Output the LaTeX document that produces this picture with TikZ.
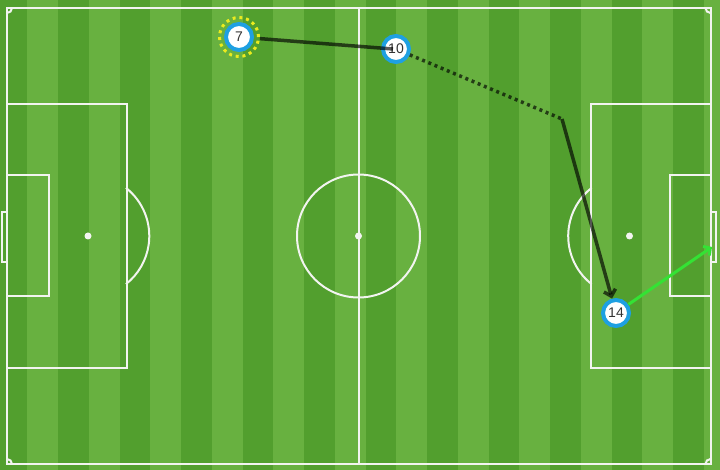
\documentclass[tikz,border=0pt]{standalone}
\usepackage{fontspec}
\setmainfont{Liberation Sans}
\usepackage{tikz}
\usetikzlibrary{positioning}
\usetikzlibrary{arrows.meta}
\tikzset{tips=proper}
\definecolor{turf}{RGB}{104,177,64}
\definecolor{turfdark}{RGB}{82,159,46}
\definecolor{ringblue}{RGB}{30,160,226}
\definecolor{shotgreen}{RGB}{52,226,52}
\definecolor{chalk}{RGB}{242,244,240}
\definecolor{spot}{RGB}{235,235,30}
\tikzset{%
    player/.style={circle, draw=ringblue, fill=white, line width=4pt, minimum size=26pt, inner sep=0pt, text=black!80, font=\fontsize{14}{14}\selectfont},
    scorer/.style={circle, draw=spot, dash pattern=on 3pt off 3.8pt, line width=3pt, minimum size=39pt, inner sep=0pt},
    chalkline/.style={draw=chalk, line width=2pt},
    pass/.style={draw=black, draw opacity=0.65, line width=3.5pt},
    carry/.style={pass, dash pattern=on 3pt off 3.7pt},
    shot/.style={draw=shotgreen, line width=3pt, {-Straight Barb[length=5pt,width=11pt]}}
}

\begin{document}
\begin{tikzpicture}[x=1pt, y=-1pt]
    \useasboundingbox (0,0) rectangle (720,470);
    % grass
    \fill[turf] (0,0) rectangle (720,470);
    \foreach \k in {0,...,11}
        \fill[turfdark] ({-3.5+61.5*\k},0) rectangle ++(30.75,470);
    % pitch markings
    \draw[chalkline] (7,8) rectangle (710.5,464);
    \draw[chalkline] (358.5,8) -- (358.5,464);
    \draw[chalkline] (358.5,236) circle[radius=61.5];
    \fill[chalk] (358.5,236) circle[radius=3.5];
    \draw[chalkline] (7,104) rectangle (126.5,367.5);
    \draw[chalkline] (7,175) rectangle (48.5,296);
    \draw[chalkline] (2,212) rectangle (7,262);
    \fill[chalk] (88,236) circle[radius=3.5];
    \draw[chalkline] (88,236) ++(-51.7:61.3) arc[start angle=-51.7, end angle=51.7, radius=61.3];
    \draw[chalkline] (591,104) rectangle (710.5,367.5);
    \draw[chalkline] (670,175) rectangle (710.5,296);
    \draw[chalkline] (710.5,212) rectangle (715.5,262);
    \fill[chalk] (629.5,236) circle[radius=3.5];
    \draw[chalkline] (629.5,236) ++(128.3:61.3) arc[start angle=128.3, end angle=231.7, radius=61.3];
    \draw[chalkline] (12,8) arc[start angle=0, end angle=90, radius=5];
    \draw[chalkline] (710.5,13) arc[start angle=90, end angle=180, radius=5];
    \draw[chalkline] (705.5,464) arc[start angle=180, end angle=270, radius=5];
    \draw[chalkline] (7,459) arc[start angle=270, end angle=360, radius=5];
    % players
    \node[scorer] (ring7) at (239,37) {};
    \node[player] (p7) at (239,37) {7};
    \node[player] (p10) at (396,49) {10};
    \node[player] (p14) at (616,313) {14};
    \coordinate (turn) at (562,119);
    \coordinate (goalmouth) at (712,247);
    % moves
    \draw[pass] (ring7) -- ([xshift=-3pt]p10.center);
    \draw[carry] (p10) -- (turn);
    \draw[pass, {-Straight Barb[length=6pt,width=12pt]}] (turn) -- (p14);
    \draw[shot] (p14) -- (goalmouth);
\end{tikzpicture}
\end{document}
